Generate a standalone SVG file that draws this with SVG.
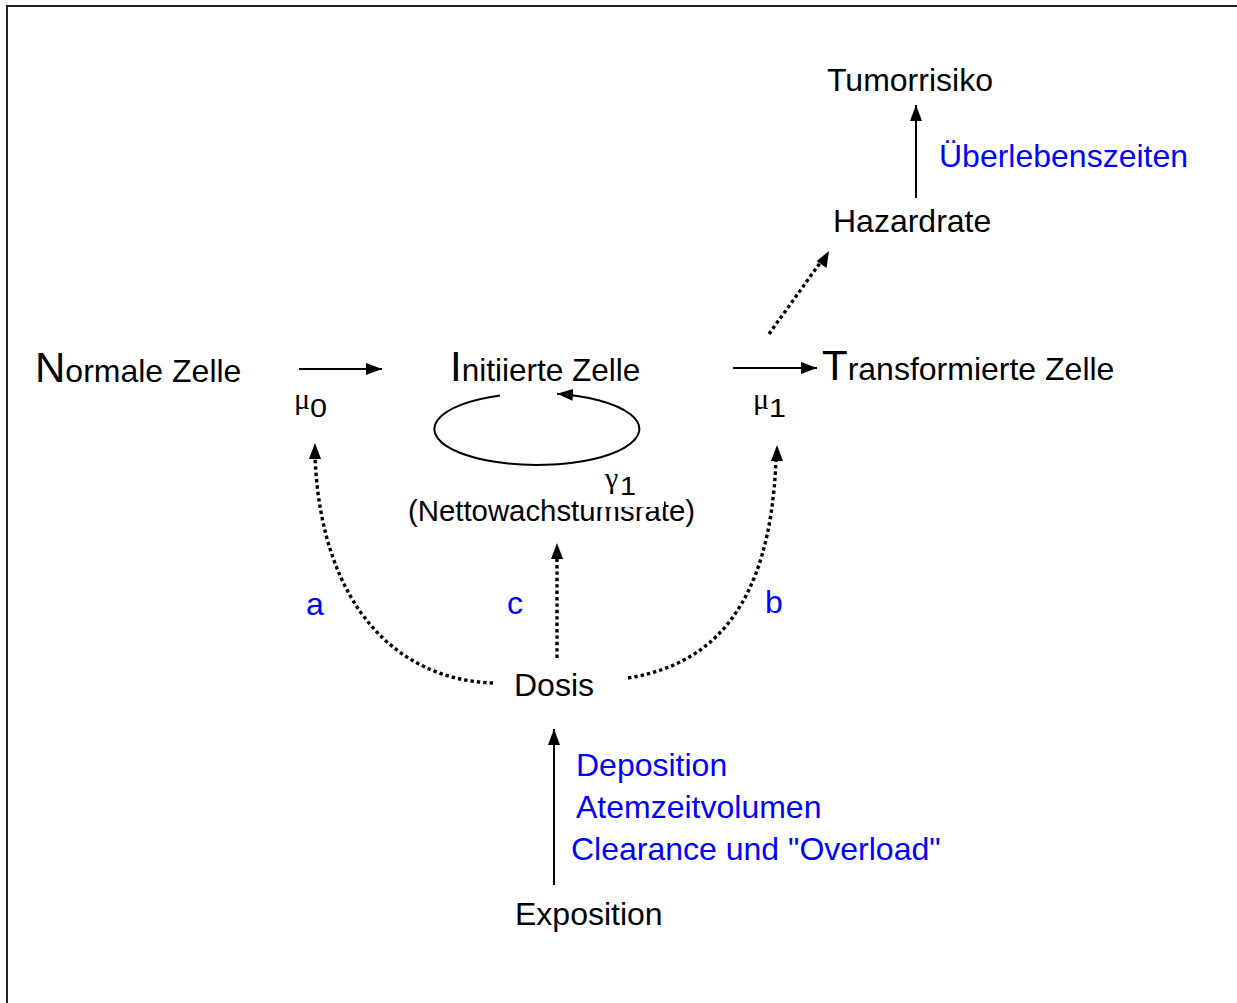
<svg xmlns="http://www.w3.org/2000/svg" width="1237" height="1003" viewBox="0 0 1237 1003">
<defs>
<style>
text{font-family:"Liberation Sans",Arial,sans-serif;font-size:32px;fill:#000}
.blue{fill:#0000ff}
.big{font-size:42px}
.sym{font-family:"Liberation Serif","DejaVu Serif",serif;font-size:30px}
.sub{font-size:25px}
.solid{stroke:#000;stroke-width:2;fill:none}
.dot{stroke:#000;stroke-width:3.4;fill:none;stroke-dasharray:3.4 3}
</style>
<marker id="ah" viewBox="0 0 16 12" refX="16" refY="6" markerWidth="16" markerHeight="12" markerUnits="userSpaceOnUse" orient="auto">
<path d="M0,0 L16,6 L0,12 Z" fill="#000"/>
</marker>
</defs>
<rect x="0" y="0" width="1237" height="1003" fill="#fff"/>
<rect x="7" y="6" width="1300" height="1100" fill="none" stroke="#222" stroke-width="2"/>

<g id="connectors">
<line class="solid" x1="299" y1="369" x2="382" y2="369" marker-end="url(#ah)"/>
<line class="solid" x1="733" y1="368" x2="817" y2="368" marker-end="url(#ah)"/>
<line class="solid" x1="916" y1="198" x2="916" y2="105" marker-end="url(#ah)"/>
<line class="solid" x1="554" y1="885" x2="554" y2="729" marker-end="url(#ah)"/>
<path class="solid" d="M500,395.4 A102.5,36 0 1 0 557,393.7" marker-end="url(#ah)"/>
<path class="dot" d="M493,683 C400,680 322,610 315,458"/>
<path d="M315,443 L321,459 L309,459 Z" fill="#000"/>
<path class="dot" d="M628,678 C710,665 770,610 776,460"/>
<path d="M777,445 L783,461 L771,461 Z" fill="#000"/>
<path class="dot" d="M557,658 L557,558"/>
<path d="M557,543 L563,559 L551,559 Z" fill="#000"/>
<path class="dot" d="M769,334 L820,263"/>
<path d="M829,251 L826.5,268 L816.7,261 Z" fill="#000"/>
</g>

<g id="normale">
<text x="35" y="382"><tspan class="big">N</tspan>ormale Zelle</text>
</g>
<g id="initiierte">
<text x="450" y="381" style="font-size:31.5px"><tspan class="big">I</tspan>nitiierte Zelle</text>
</g>
<g id="transformierte">
<text x="822" y="380"><tspan class="big">T</tspan>ransformierte Zelle</text>
</g>
<g id="mu0">
<text class="sym" x="294" y="409">μ</text>
<text class="sub" x="310" y="417" textLength="17" lengthAdjust="spacingAndGlyphs">0</text>
</g>
<g id="mu1">
<text class="sym" x="753" y="409">μ</text>
<text class="sub" x="769" y="417" textLength="17" lengthAdjust="spacingAndGlyphs">1</text>
</g>
<g id="netto">
<text x="408" y="521" style="font-size:29.5px" textLength="287" lengthAdjust="spacingAndGlyphs">(Nettowachstumsrate)</text>
<rect x="588" y="472" width="76" height="35" fill="#fff"/>
<text class="sym" x="605" y="488">γ</text>
<text class="sub" x="620" y="495" textLength="16" lengthAdjust="spacingAndGlyphs">1</text>
</g>
<g id="hazardrate">
<text x="833" y="232">Hazardrate</text>
</g>
<g id="tumorrisiko">
<text x="827" y="91">Tumorrisiko</text>
</g>
<g id="ueberleben">
<text class="blue" x="939" y="167">Überlebenszeiten</text>
</g>
<g id="dosis">
<text x="514" y="696">Dosis</text>
</g>
<g id="labels-abc">
<text class="blue" x="306" y="615">a</text>
<text class="blue" x="507" y="614">c</text>
<text class="blue" x="765" y="613">b</text>
</g>
<g id="exposition-labels">
<text class="blue" x="576" y="776">Deposition</text>
<text class="blue" x="576" y="818">Atemzeitvolumen</text>
<text class="blue" x="571" y="860">Clearance und "Overload"</text>
</g>
<g id="exposition">
<text x="515" y="925">Exposition</text>
</g>
</svg>
